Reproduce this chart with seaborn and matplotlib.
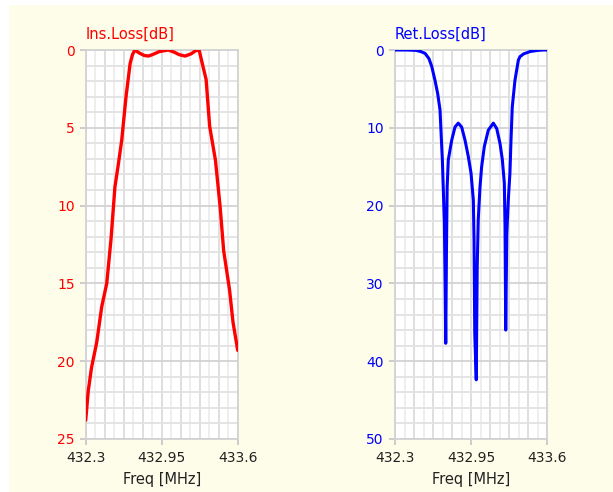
import numpy as np
import pandas as pd
import matplotlib
matplotlib.use("Agg")
import matplotlib.pyplot as plt
from matplotlib.patches import Rectangle
import seaborn as sns

# ---------------- data ----------------
freq_il = [432.300, 432.322, 432.350, 432.394, 432.437, 432.480, 432.516, 432.550, 432.580,
           432.608, 432.645, 432.680, 432.700, 432.720, 432.760, 432.800, 432.835, 432.870,
           432.930, 433.006, 433.060, 433.100, 433.150, 433.200, 433.240, 433.270, 433.300,
           433.330, 433.360, 433.410, 433.450, 433.480, 433.530, 433.560, 433.600]
ins_loss = [23.8, 21.9, 20.4, 18.8, 16.5, 15.0, 12.2, 8.8, 7.3,
            5.8, 3.0, 0.86, 0.3, 0.0, 0.2, 0.35, 0.39, 0.3,
            0.1, 0.0, 0.15, 0.3, 0.39, 0.25, 0.05, 0.0, 0.96,
            1.9, 4.9, 7.1, 10.1, 12.9, 15.4, 17.5, 19.3]

freq_rl = [432.300, 432.400, 432.480, 432.520, 432.557, 432.590, 432.614, 432.642, 432.665,
           432.685, 432.693, 432.705, 432.716, 432.722, 432.728, 432.734, 432.740, 432.746,
           432.756, 432.785, 432.813, 432.841, 432.870, 432.899, 432.927, 432.950, 432.970,
           432.976, 432.982, 432.995, 433.003, 433.012, 433.027, 433.041, 433.064, 433.098,
           433.141, 433.170, 433.198, 433.218, 433.235, 433.241, 433.247, 433.256, 433.270,
           433.283, 433.292, 433.303, 433.326, 433.355, 433.369, 433.400, 433.455, 433.520,
           433.568, 433.600]
ret_loss = [0.0, 0.0, 0.05, 0.2, 0.43, 1.1, 2.1, 3.9, 5.6,
            7.7, 10.3, 14.1, 19.3, 22.0, 29.1, 37.7, 26.0, 17.6,
            14.1, 11.6, 9.9, 9.4, 9.9, 11.6, 13.7, 15.8, 19.3,
            24.4, 36.4, 42.4, 28.0, 21.8, 17.6, 15.0, 12.4, 10.3,
            9.4, 10.1, 12.0, 14.1, 17.1, 22.7, 36.0, 23.6, 19.0,
            15.8, 11.6, 7.3, 3.9, 1.3, 0.86, 0.5, 0.2, 0.05,
            0.0, 0.0]

x_ticks = [432.3, 432.95, 433.6]
x_tick_labels = ["432.3", "432.95", "433.6"]
il_ticks = [0, 5, 10, 15, 20, 25]
rl_ticks = [0, 10, 20, 30, 40, 50]

df_il = pd.DataFrame({"freq": freq_il, "loss": ins_loss})
df_rl = pd.DataFrame({"freq": freq_rl, "loss": ret_loss})

# ---------------- figure ----------------
sns.set_style("white")
plt.rcParams["font.family"] = ["DejaVu Sans"]

W, H = 613, 492
fig = plt.figure(figsize=(W / 100, H / 100), dpi=100)
fig.patch.set_facecolor("white")
fig.add_artist(Rectangle((9 / W, 0), 1 - 9 / W, (H - 5) / H, transform=fig.transFigure,
                         facecolor="#FEFDE9", edgecolor="none", zorder=-10))

ax_h = 389 / H
ax_b = 1 - 439 / H
ax_w = 152 / W
ax1 = fig.add_axes([85.7 / W, ax_b, ax_w, ax_h])
ax2 = fig.add_axes([395 / W, ax_b, ax_w, ax_h])

RED = "#FF0000"
BLUE = "#0000FF"


def style_axis(ax, ymax, ymajor, yminor, yticks, color, title):
    ax.set_facecolor("white")
    ax.set_xlim(432.3, 433.6)
    ax.set_ylim(ymax, 0)
    xstep = (433.6 - 432.3) / 16
    for i, xv in enumerate(np.arange(432.3, 433.6 + 1e-9, xstep)):
        ax.axvline(xv, color="#DCDCDC" if i % 2 == 0 else "#EDEDED", lw=1.3, zorder=0)
    for yv in np.arange(0, ymax + 1e-9, yminor):
        major = abs(yv / ymajor - round(yv / ymajor)) < 1e-6
        ax.axhline(yv, color="#D2D2D2" if major else "#E2E2E2", lw=1.3, zorder=0)
    for s in ax.spines.values():
        s.set_color("#D2D2D2")
        s.set_linewidth(1.3)
    ax.set_xticks(x_ticks)
    ax.set_xticklabels(x_tick_labels)
    ax.set_yticks(yticks)
    ax.set_yticklabels([str(t) for t in yticks])
    ax.tick_params(axis="y", colors="#C8C8C8", labelcolor=color, length=4, width=1.3,
                   pad=4, labelsize=10, left=True)
    ax.tick_params(axis="x", colors="#C8C8C8", labelcolor="#222222", length=4, width=1.3,
                   pad=5, labelsize=10, bottom=True)
    ax.set_xlabel("Freq [MHz]", fontsize=10.5, color="#222222", labelpad=5)
    ax.set_ylabel("")
    ax.text(0, 1.02, title, transform=ax.transAxes, color=color, fontsize=10.5,
            ha="left", va="bottom")


sns.lineplot(data=df_il, x="freq", y="loss", ax=ax1, color=RED, lw=2.4,
             estimator=None, sort=False, zorder=3)
sns.lineplot(data=df_rl, x="freq", y="loss", ax=ax2, color=BLUE, lw=2.2,
             estimator=None, sort=False, zorder=3)

style_axis(ax1, 25, 5, 1, il_ticks, RED, "Ins.Loss[dB]")
style_axis(ax2, 50, 10, 2, rl_ticks, BLUE, "Ret.Loss[dB]")

fig.savefig("out.png", dpi=100)
